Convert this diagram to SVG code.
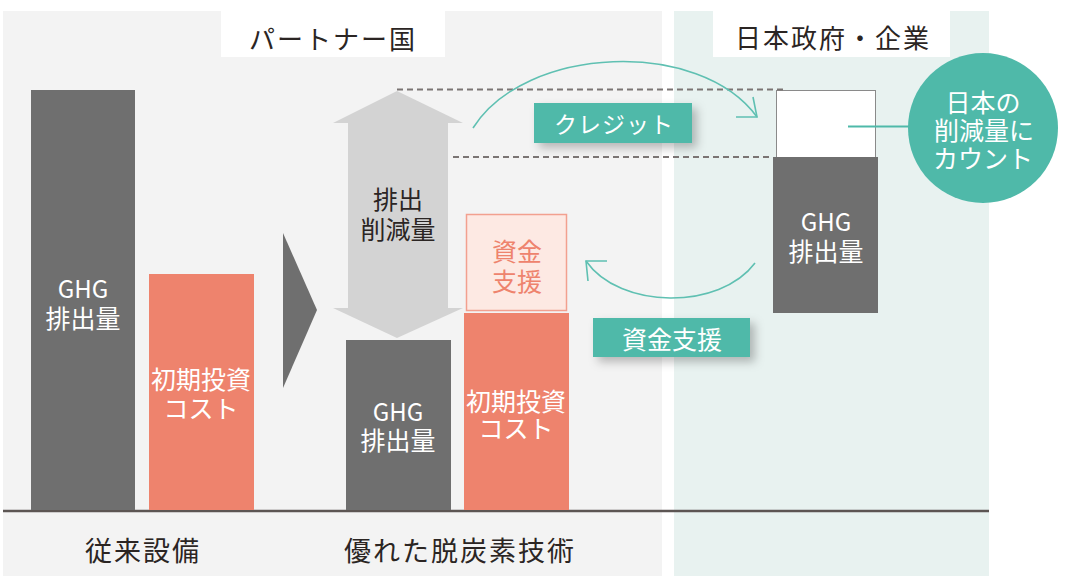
<svg xmlns="http://www.w3.org/2000/svg" width="1069" height="586" viewBox="0 0 1069 586">
<defs>
<style>
.t{font-family:"Noto Sans CJK JP","Noto Sans",sans-serif;dominant-baseline:central;text-anchor:middle}
.dk{fill:#2b2523}
.w{fill:#ffffff}
.bar{fill:#6f6f6f}
.org{fill:#ee836d}
.dash{stroke:#7a7473;stroke-width:2;stroke-dasharray:6 4;fill:none}
.arc{stroke:#5fc0b2;stroke-width:1.6;fill:none}
.lbl{fill:#4fb9a9;filter:url(#sh)}
</style>
<filter id="sh" x="-20%" y="-40%" width="150%" height="200%">
<feDropShadow dx="5" dy="5" stdDeviation="5" flood-color="#000" flood-opacity="0.25"/>
</filter>
</defs>
<rect width="1069" height="586" fill="#ffffff"/>
<g id="panel-left">
<rect x="3" y="11" width="659" height="565" fill="#f3f3f3"/>
<rect x="221" y="11" width="224" height="46" fill="#ffffff"/>
<text class="t dk" x="333" y="37" font-size="26" letter-spacing="2">パートナー国</text>
</g>
<g id="panel-right">
<rect x="674" y="11" width="315" height="565" fill="#e8f2f0"/>
<rect x="713" y="11" width="237" height="46" fill="#ffffff"/>
<text class="t dk" x="833" y="36" font-size="26" letter-spacing="2">日本政府・企業</text>
</g>
<g id="baseline">
<line x1="3" y1="511" x2="989" y2="511" stroke="#5c5553" stroke-width="2.5"/>
</g>
<g id="ghg-conventional">
<rect class="bar" x="31" y="90" width="104" height="420"/>
<text class="t w" font-size="25"><tspan x="83" y="287" font-size="24">GHG</tspan><tspan x="83" y="317">排出量</tspan></text>
</g>
<g id="cost-conventional">
<rect class="org" x="149" y="274" width="105" height="236"/>
<text class="t w" font-size="25"><tspan x="201" y="378">初期投資</tspan><tspan x="201" y="407">コスト</tspan></text>
</g>
<g id="transition-arrow">
<polygon points="283,233 317,310 283,388" fill="#6f6f6f"/>
</g>
<g id="reduction-arrow">
<polygon points="397,91 463,123 448,123 448,308 463,308 397,338 333,308 348,308 348,123 333,123" fill="#d3d3d3"/>
<text class="t dk" font-size="25"><tspan x="398" y="198">排出</tspan><tspan x="398" y="228">削減量</tspan></text>
</g>
<g id="ghg-new">
<rect class="bar" x="346" y="340" width="105" height="170"/>
<text class="t w" font-size="25"><tspan x="398" y="410" font-size="24">GHG</tspan><tspan x="398" y="439">排出量</tspan></text>
</g>
<g id="cost-new">
<rect class="org" x="464" y="313" width="105" height="197"/>
<text class="t w" font-size="25"><tspan x="516" y="400">初期投資</tspan><tspan x="516" y="427">コスト</tspan></text>
</g>
<g id="funding-box">
<rect x="466.5" y="214.5" width="100" height="96" fill="#fde9e3" stroke="#f2a08f" stroke-width="1.5"/>
<text class="t" font-size="25" fill="#ee836d"><tspan x="517" y="250">資金</tspan><tspan x="517" y="280">支援</tspan></text>
</g>
<g id="credit-label">
<rect class="lbl" x="534" y="103" width="158" height="40"/>
<text class="t w" x="614" y="123" font-size="23" letter-spacing="1">クレジット</text>
</g>
<g id="funding-label">
<rect class="lbl" x="593" y="318" width="157" height="39"/>
<text class="t w" x="672" y="338" font-size="25">資金支援</text>
</g>
<g id="japan-credit">
<rect x="776.5" y="90.5" width="99" height="67" fill="#ffffff" stroke="#8a8a8a" stroke-width="1"/>
</g>
<g id="ghg-japan">
<rect class="bar" x="773" y="157" width="105" height="156"/>
<text class="t w" font-size="25"><tspan x="826" y="220" font-size="24">GHG</tspan><tspan x="826" y="250">排出量</tspan></text>
</g>
<g id="count-circle">
<circle cx="983" cy="128" r="75" fill="#4fb9a9"/>
<text class="t w" font-size="25"><tspan x="983" y="101">日本の</tspan><tspan x="984" y="129">削減量に</tspan><tspan x="983" y="157">カウント</tspan></text>
</g>
<g id="connectors">
<line class="dash" x1="397" y1="89.5" x2="785" y2="89.5"/>
<line class="dash" x1="453" y1="157" x2="773" y2="157"/>
<path class="arc" d="M473,128 C525,45 700,38 757,117"/>
<polyline class="arc" points="736,117 757,117 753,97"/>
<path class="arc" d="M755,263 C720,310 620,310 586,261"/>
<polyline class="arc" points="607,261 586,261 588,281"/>
<line x1="848" y1="126.5" x2="909" y2="126.5" stroke="#4fb9a9" stroke-width="2"/>
</g>
<g id="bottom-labels">
<text class="t dk" x="143" y="549" font-size="27" letter-spacing="2">従来設備</text>
<text class="t dk" x="460" y="549" font-size="27" letter-spacing="2">優れた脱炭素技術</text>
</g>
</svg>
